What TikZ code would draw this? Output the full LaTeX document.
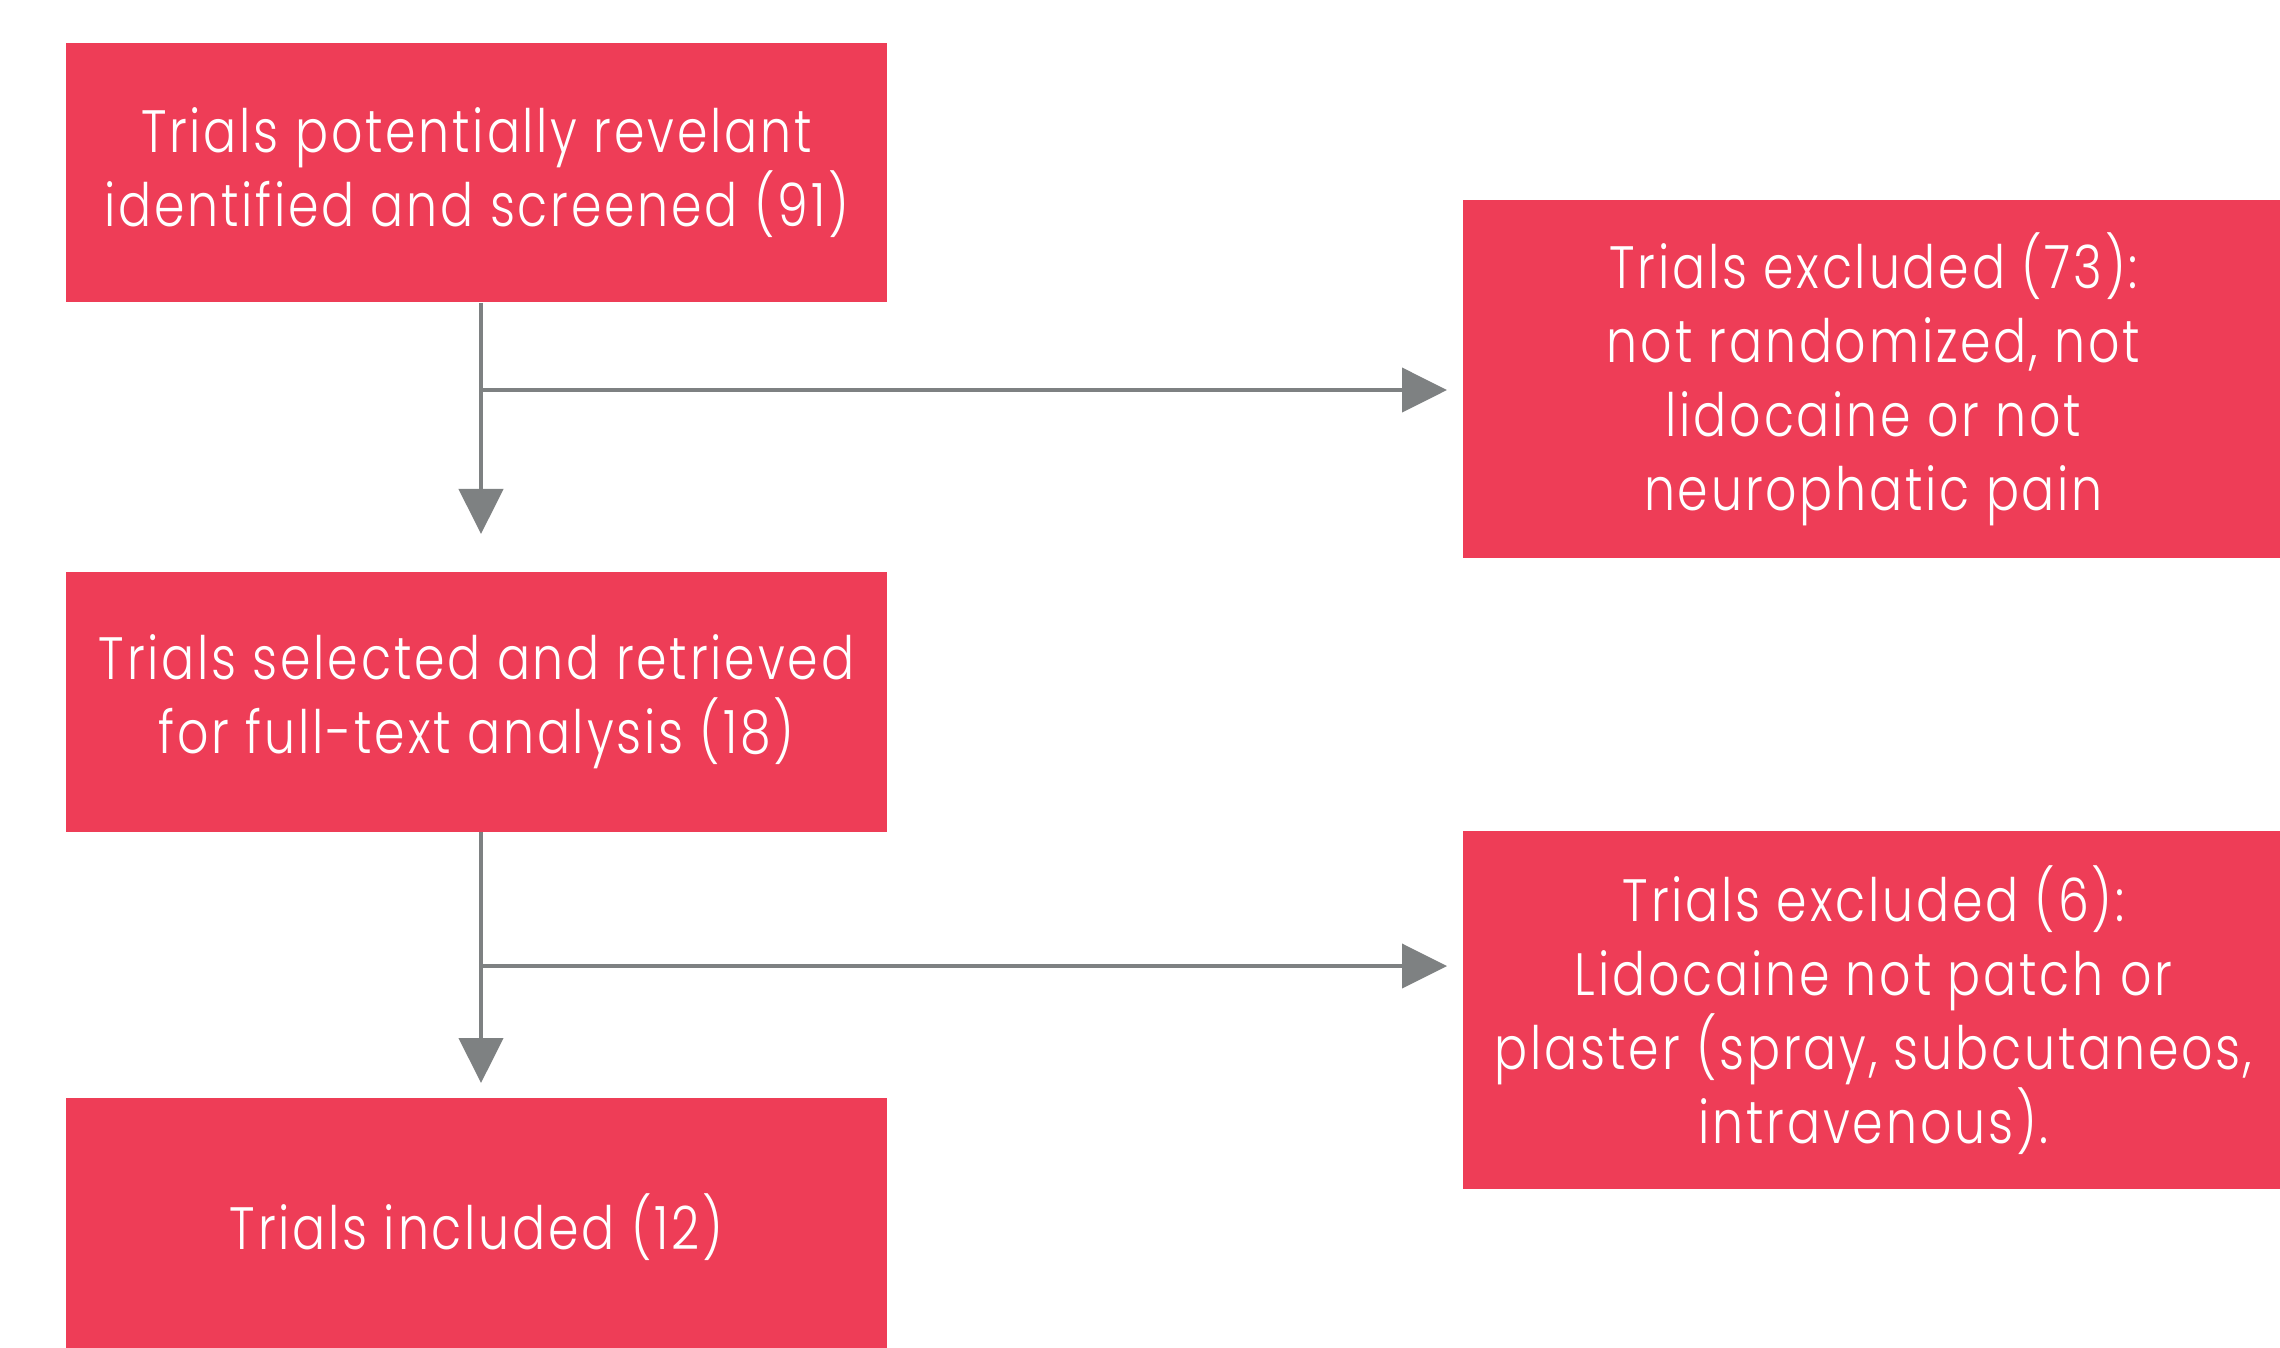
\documentclass[tikz,border=0pt]{standalone}
\usepackage{fontspec}
\newfontfamily\boxfont{Poppins Light}[FakeStretch=0.82, LetterSpace=4.7]
\usetikzlibrary{arrows.meta,calc}
\definecolor{boxred}{HTML}{EE3D57}
\definecolor{arrgray}{HTML}{7E8182}
\tikzset{
  flowbox/.style={rectangle, fill=boxred, draw=none, text=white, align=center,
    minimum width=8.21cm, minimum height=2.59cm, inner sep=0pt,
    font=\boxfont\fontsize{17}{21}\selectfont},
  sidebox/.style={flowbox, minimum height=3.57cm},
  conn/.style={draw=arrgray, line width=0.04cm,
    -{Triangle[length=0.45cm, width=0.44cm, fill=arrgray]}}
}
\begin{document}
\begin{tikzpicture}[x=0.01cm, y=-0.01cm]
\useasboundingbox (0,0) rectangle (2280,1347);
\fill[white] (0,0) rectangle (2280,1347);
\node[flowbox] (b1) at (476.5,172.5) {Trials potentially revelant\\identified and screened (91)};
\node[flowbox] (b2) at (476.5,702) {Trials selected and retrieved\\for full-text analysis (18)};
\node[flowbox] (b3) at (476.5,1227.5) {Trials included (12)};
\node[sidebox] (e1) at (1873.5,379) {Trials excluded (73):\\not randomized, not\\lidocaine or not\\neurophatic pain};
\node[sidebox] (e2) at (1873.5,1010) {Trials excluded (6):\\Lidocaine not patch or\\plaster (spray, subcutaneos,\\intravenous).};
\coordinate (d1) at (481,534);
\coordinate (s1) at (481,390);
\coordinate (r1) at (1447,390);
\coordinate (d2) at (481,1083);
\coordinate (s2) at (481,966);
\coordinate (r2) at (1447,966);
\draw[conn] (b1.south -| d1) -- (d1);
\draw[conn] (s1) -- (r1);
\draw[conn] (b2.south -| d2) -- (d2);
\draw[conn] (s2) -- (r2);
\end{tikzpicture}
\end{document}
